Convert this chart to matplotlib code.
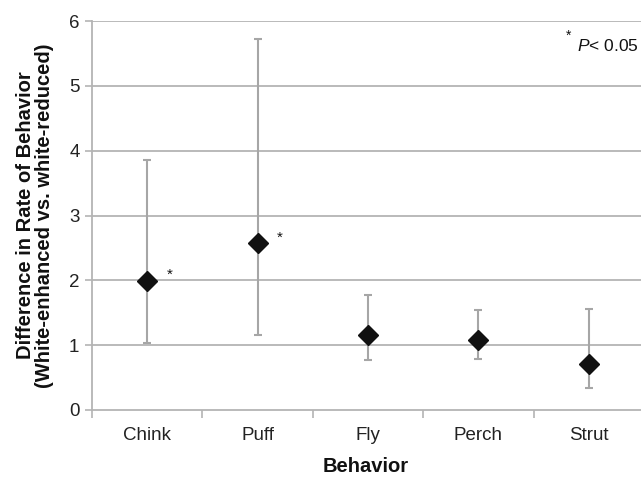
import matplotlib
matplotlib.use("Agg")
import matplotlib.pyplot as plt
import numpy as np

plt.rcParams['font.family'] = ['Liberation Sans', 'DejaVu Sans']
plt.rcParams['mathtext.fontset'] = 'custom'
plt.rcParams['mathtext.rm'] = 'Liberation Sans'
plt.rcParams['mathtext.it'] = 'Liberation Sans:italic'

categories = ["Chink", "Puff", "Fly", "Perch", "Strut"]
means = [1.99, 2.57, 1.16, 1.08, 0.71]
upper = [3.86, 5.73, 1.77, 1.55, 1.56]
lower = [1.03, 1.16, 0.77, 0.78, 0.34]
significant = [True, True, False, False, False]
yticks = [0, 1, 2, 3, 4, 5, 6]

fig = plt.figure(figsize=(6.41, 4.78), dpi=100)
ax = fig.add_axes([92/641, 68/478, 552/641, 389/478])

x = np.arange(len(categories))
m = np.array(means)
err = [m - np.array(lower), np.array(upper) - m]

grid_c = '#b4b4b4'
for yv in yticks[1:]:
    ax.axhline(yv, color=grid_c, lw=1.3, zorder=0)

ax.errorbar(x, m, yerr=err, fmt='none', ecolor='#a6a6a6', elinewidth=1.5,
            capsize=3, capthick=1.5, zorder=2)
ax.plot(x, m, linestyle='none', marker='D', markersize=10.5, color='#111111', zorder=3)

for xi, mi, s in zip(x, m, significant):
    if s:
        ax.text(xi + 0.2, mi + 0.09, '*', fontsize=11, ha='center', va='center', color='#111111')

ax.set_xlim(-0.5, 4.5)
ax.set_ylim(0, 6)
ax.set_yticks(yticks)
ax.set_yticklabels([str(v) for v in yticks], fontsize=13.5, color='#222222')
ax.set_xticks(np.arange(-0.5, 5.0, 1.0))
ax.set_xticklabels([])
ax.set_xticks(x, minor=True)
ax.set_xticklabels(categories, minor=True, fontsize=13.5, color='#222222')
ax.tick_params(axis='x', which='major', length=6, color=grid_c, width=1.2, direction='out')
ax.tick_params(axis='x', which='minor', length=0, pad=12)
ax.tick_params(axis='y', length=5, color=grid_c, width=1.2, pad=4)

for sp in ['top', 'right']:
    ax.spines[sp].set_visible(False)
for sp in ['left', 'bottom']:
    ax.spines[sp].set_color(grid_c)
    ax.spines[sp].set_linewidth(1.3)

ax.set_xlabel('Behavior', fontsize=14.5, fontweight='bold', color='#111111')
ax.xaxis.set_label_coords(0.5 - 2/552, (478 - 457 - 68) / 389)
ax.set_ylabel('Difference in Rate of Behavior\n(White-enhanced vs. white-reduced)',
              fontsize=14.5, fontweight='bold', color='#111111', linespacing=1.0)
ax.yaxis.set_label_coords((54 - 92) / 552, 0.5)

fig.text(566/641, 1 - 36/478, '*', fontsize=10, ha='left', va='center', color='#111111')
fig.text(639/641, 1 - 51/478, r'$\mathit{P}$< 0.05', fontsize=12.5, ha='right', va='baseline',
         color='#111111')

fig.savefig('out.png', dpi=100)
